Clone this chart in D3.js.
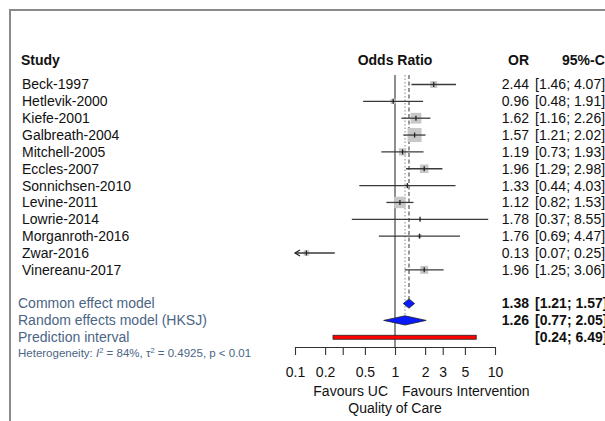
<!DOCTYPE html>
<html>
<head>
<meta charset="utf-8">
<script src="https://cdn.jsdelivr.net/npm/d3@7"></script>
<style>
  body { margin: 0; background: white; }
  svg { display: block; font-family: "Liberation Sans", Arial, sans-serif; }
</style>
</head>
<body>
<div id="vis"></div>
<script>
// study data
let studies = ['Beck-1997', 'Hetlevik-2000', 'Kiefe-2001', 'Galbreath-2004', 'Mitchell-2005',
  'Eccles-2007', 'Sonnichsen-2010', 'Levine-2011', 'Lowrie-2014', 'Morganroth-2016',
  'Zwar-2016', 'Vinereanu-2017'];
let or = [2.44, 0.96, 1.62, 1.57, 1.19, 1.96, 1.33, 1.12, 1.78, 1.76, 0.13, 1.96];
let lower = [1.46, 0.48, 1.16, 1.21, 0.73, 1.29, 0.44, 0.82, 0.37, 0.69, 0.07, 1.25];
let upper = [4.07, 1.91, 2.26, 2.02, 1.93, 2.98, 4.03, 1.53, 8.55, 4.47, 0.25, 3.06];

let summaryLabels = ['Common effect model', 'Random effects model (HKSJ)', 'Prediction interval'];
let summaryOr = [1.38, 1.26, null];
let summaryLower = [1.21, 0.77, 0.24];
let summaryUpper = [1.57, 2.05, 6.49];

let tickValues = [0.1, 0.2, 0.3, 0.5, 1, 2, 3, 5, 10];
let tickLabels = ['0.1', '0.2', '', '0.5', '1', '2', '3', '5', '10'];

let width = 605, height = 421;
let fmt = d3.format('.2f');

let svg = d3.select('#vis')
  .append('svg')
  .attr('width', width)
  .attr('height', height)
  .style('background-color', 'white');

// frame of the original figure (clipped on right and bottom)
svg.append('rect')
  .attr('x', 10).attr('y', 10)
  .attr('width', 800).attr('height', 600)
  .attr('fill', 'none')
  .attr('stroke', '#8a8a8a')
  .attr('stroke-width', 2);

let x = d3.scaleLog().domain([0.1, 10]).range([295, 495]);

// row positions: 12 studies, blank, 3 summary rows
let rows = d3.range(16);
let y = d3.scalePoint().domain(rows).range([84.5, 84.5 + 15 * 16.85]);

let fs = 14;
let labelColor = '#4b6584';

// header
let header = svg.append('g').attr('font-weight', 'bold').attr('font-size', fs).attr('fill', '#111');
header.append('text').attr('x', 21).attr('y', 60).attr('dy', '0.35em').text('Study');
header.append('text').attr('x', x(1)).attr('y', 60).attr('dy', '0.35em').attr('text-anchor', 'middle').text('Odds Ratio');
header.append('text').attr('x', 529).attr('y', 60).attr('dy', '0.35em').attr('text-anchor', 'end').text('OR');
header.append('text').attr('x', 562).attr('y', 60).attr('dy', '0.35em').text('95%-CI');

// reference line at 1 and pooled estimate lines
svg.append('line')
  .attr('x1', x(1)).attr('x2', x(1))
  .attr('y1', 75).attr('y2', 347)
  .attr('stroke', '#444').attr('stroke-width', 1.2);

svg.append('line')
  .attr('x1', x(summaryOr[1])).attr('x2', x(summaryOr[1]))
  .attr('y1', 75).attr('y2', y(14) - 4.5)
  .attr('stroke', '#999').attr('stroke-width', 1.2)
  .attr('stroke-dasharray', '1.5,2');

svg.append('line')
  .attr('x1', x(summaryOr[0])).attr('x2', x(summaryOr[0]))
  .attr('y1', 75).attr('y2', y(13) - 4.5)
  .attr('stroke', '#555').attr('stroke-width', 1.2)
  .attr('stroke-dasharray', '4,2.5');

// box size from inverse variance weights, as meta does
let se = studies.map((s, i) => (Math.log(upper[i]) - Math.log(lower[i])) / (2 * 1.96));
let w = se.map(s => 1 / (s * s));
let wMax = d3.max(w);
let boxSize = d3.scaleSqrt().domain([0, wMax]).range([0, 14]);

let studyRows = svg.append('g');
studies.forEach(function(name, i) {
  let cy = y(i);
  let lo = Math.max(lower[i], 0.1), hi = Math.min(upper[i], 10);
  let s = boxSize(w[i]);
  let g = studyRows.append('g');
  g.append('rect')
    .attr('x', x(or[i]) - s / 2).attr('y', cy - s / 2)
    .attr('width', s).attr('height', s)
    .attr('fill', '#c8c8c8');
  g.append('line')
    .attr('x1', x(lo)).attr('x2', x(hi))
    .attr('y1', cy).attr('y2', cy)
    .attr('stroke', '#3a3a3a').attr('stroke-width', 1.3);
  g.append('line')
    .attr('x1', x(or[i])).attr('x2', x(or[i]))
    .attr('y1', cy - 2.5).attr('y2', cy + 2.5)
    .attr('stroke', '#222').attr('stroke-width', 1.3);
  if (lower[i] < 0.1) {
    // arrow for truncated interval
    g.append('path')
      .attr('d', 'M' + (x(0.1) + 5) + ',' + (cy - 3) + 'L' + x(0.1) + ',' + cy + 'L' + (x(0.1) + 5) + ',' + (cy + 3))
      .attr('fill', 'none').attr('stroke', '#222').attr('stroke-width', 1.2);
  }
  g.append('text').attr('x', 22).attr('y', cy).attr('dy', '0.35em')
    .attr('font-size', fs).attr('fill', '#111').text(name);
  g.append('text').attr('x', 529).attr('y', cy).attr('dy', '0.35em')
    .attr('text-anchor', 'end').attr('font-size', fs).attr('fill', '#111').text(fmt(or[i]));
  g.append('text').attr('x', 535).attr('y', cy).attr('dy', '0.35em')
    .attr('font-size', fs).attr('fill', '#111')
    .text('[' + fmt(lower[i]) + '; ' + fmt(upper[i]) + ']');
});

// summary rows
summaryLabels.forEach(function(lab, j) {
  let cy = y(13 + j);
  svg.append('text').attr('x', 18).attr('y', cy).attr('dy', '0.35em')
    .attr('font-size', fs).attr('fill', labelColor).text(lab);
  if (summaryOr[j] != null) {
    let h = 4.6;
    svg.append('path')
      .attr('d', 'M' + x(summaryLower[j]) + ',' + cy +
        'L' + x(summaryOr[j]) + ',' + (cy - h) +
        'L' + x(summaryUpper[j]) + ',' + cy +
        'L' + x(summaryOr[j]) + ',' + (cy + h) + 'Z')
      .attr('fill', '#0a1aff').attr('stroke', '#222').attr('stroke-width', 0.8);
    svg.append('text').attr('x', 529).attr('y', cy).attr('dy', '0.35em')
      .attr('text-anchor', 'end').attr('font-size', fs).attr('font-weight', 'bold').attr('fill', '#111')
      .text(fmt(summaryOr[j]));
  } else {
    svg.append('rect')
      .attr('x', x(summaryLower[j])).attr('y', cy - 2)
      .attr('width', x(summaryUpper[j]) - x(summaryLower[j])).attr('height', 4)
      .attr('fill', '#ff0000').attr('stroke', '#222').attr('stroke-width', 0.8);
  }
  svg.append('text').attr('x', 535).attr('y', cy).attr('dy', '0.35em')
    .attr('font-size', fs).attr('font-weight', 'bold').attr('fill', '#111')
    .text('[' + fmt(summaryLower[j]) + '; ' + fmt(summaryUpper[j]) + ']');
});

// heterogeneity line
let het = svg.append('text').attr('x', 18).attr('y', 353).attr('dy', '0.35em')
  .attr('font-size', 11.5).attr('fill', labelColor);
het.append('tspan').text('Heterogeneity: ');
het.append('tspan').attr('font-style', 'italic').text('I');
het.append('tspan').attr('font-size', 7.5).attr('dy', -4).text('2');
het.append('tspan').attr('dy', 4).text(' = 84%, \u03c4');
het.append('tspan').attr('font-size', 7.5).attr('dy', -4).text('2');
het.append('tspan').attr('dy', 4).text(' = 0.4925, p < 0.01');

// axis
let axis = d3.axisBottom(x)
  .tickValues(tickValues)
  .tickFormat((d, i) => tickLabels[i])
  .tickSize(8)
  .tickSizeOuter(0)
  .tickPadding(12);

let ax = svg.append('g').attr('transform', 'translate(0,347)').call(axis);
ax.selectAll('path, line').attr('stroke', '#333').attr('stroke-width', 1.1);
ax.selectAll('text').attr('font-size', fs).attr('fill', '#111')
  .attr('font-family', '"Liberation Sans", Arial, sans-serif');

svg.append('text').attr('x', 388).attr('y', 391).attr('dy', '0.35em')
  .attr('text-anchor', 'end').attr('font-size', fs).attr('fill', '#111').text('Favours UC');
svg.append('text').attr('x', 402).attr('y', 391).attr('dy', '0.35em')
  .attr('font-size', fs).attr('fill', '#111').text('Favours Intervention');
svg.append('text').attr('x', x(1)).attr('y', 408).attr('dy', '0.35em')
  .attr('text-anchor', 'middle').attr('font-size', fs).attr('fill', '#111').text('Quality of Care');
</script>
</body>
</html>
